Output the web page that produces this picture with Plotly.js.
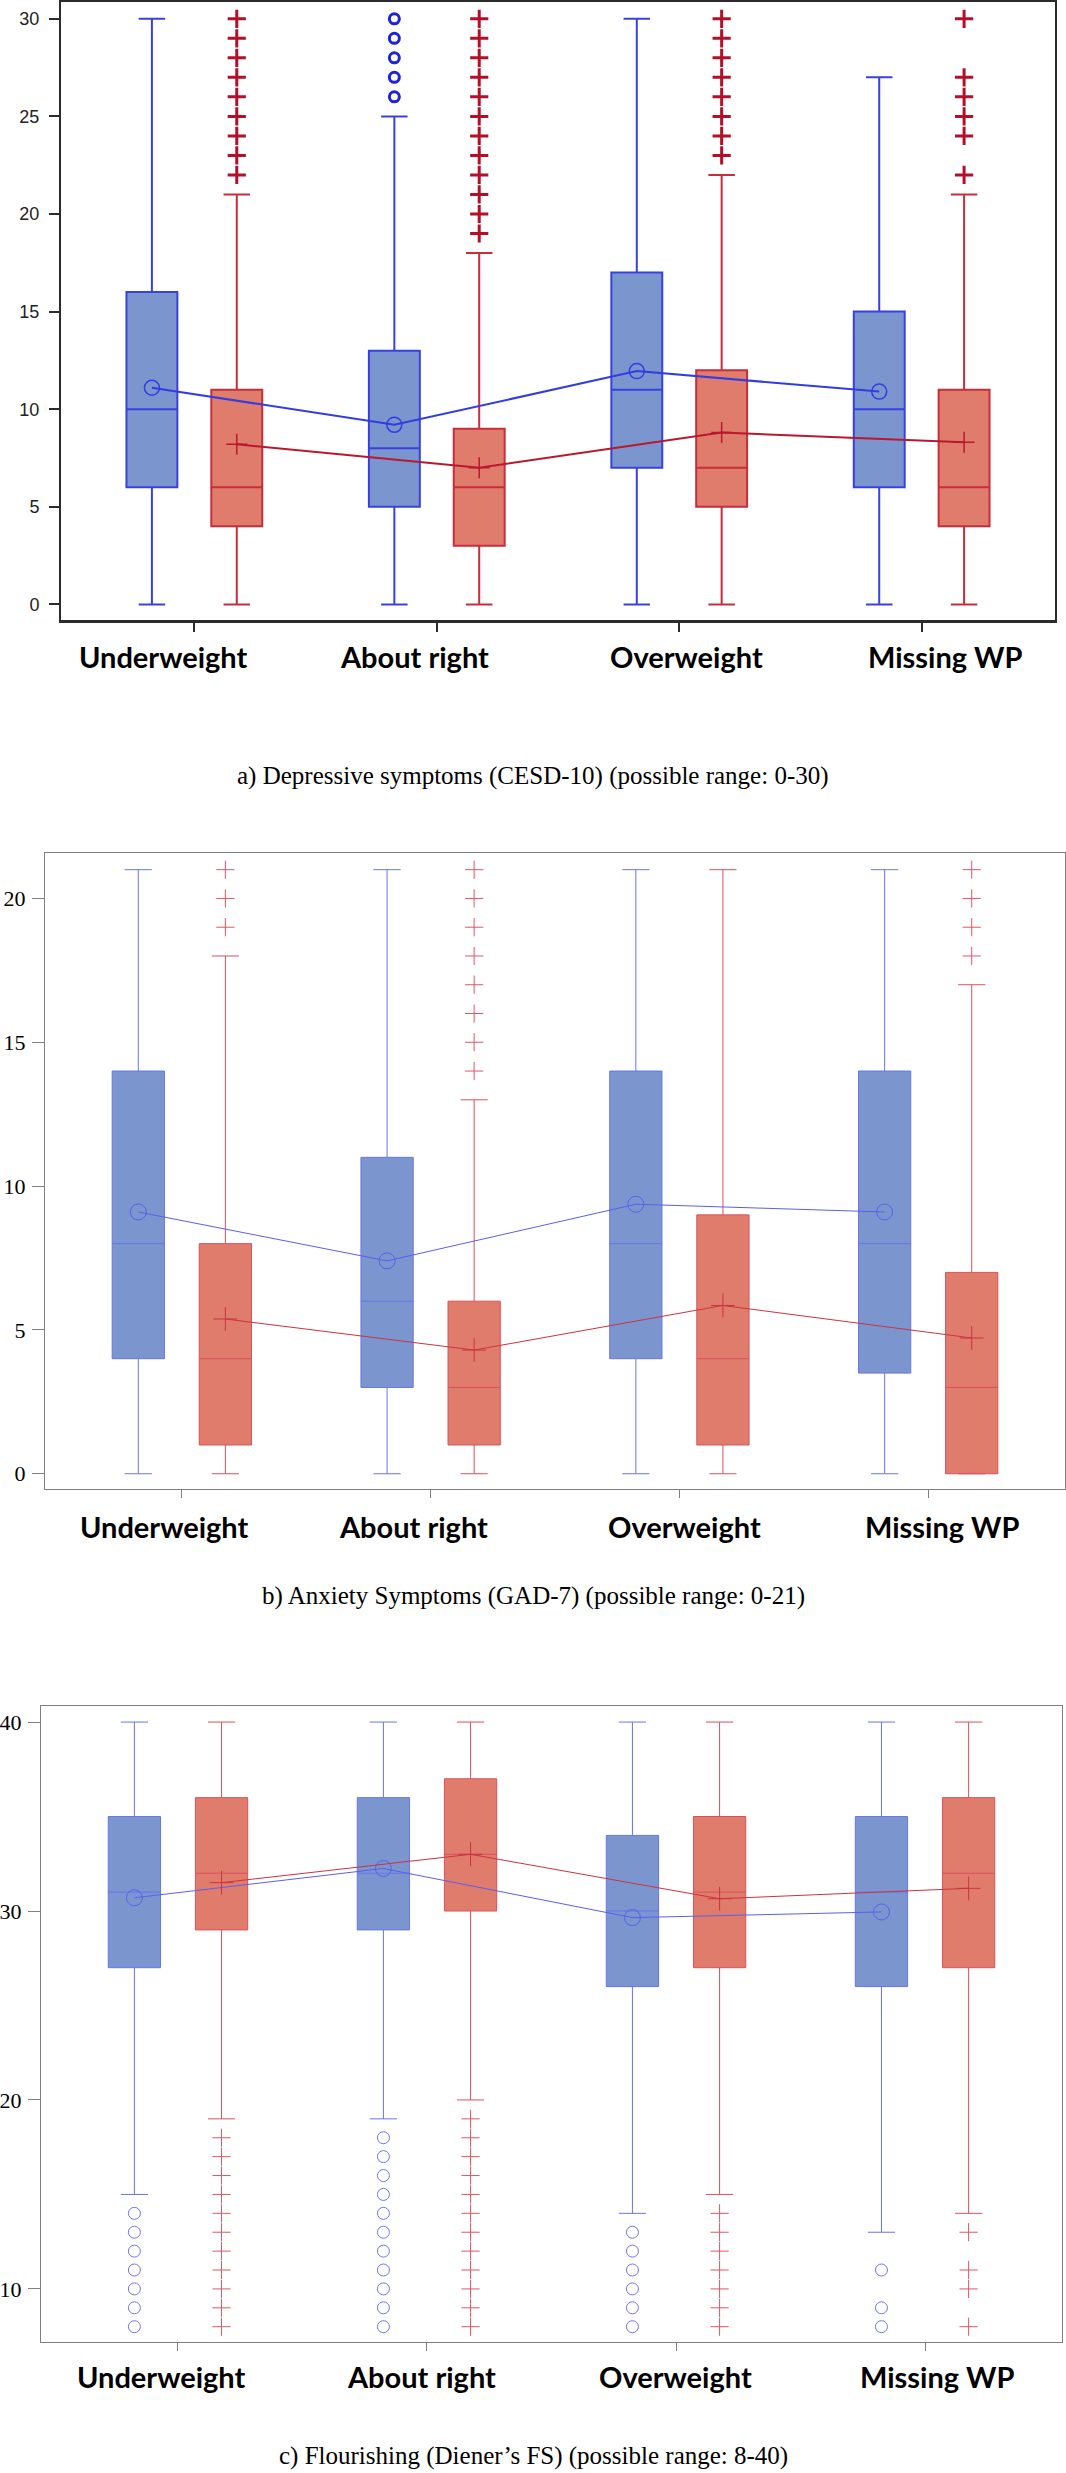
<!DOCTYPE html>
<html>
<head>
<meta charset="utf-8">
<script src="https://cdn.plot.ly/plotly-3.0.1.min.js"></script>
<style>
html,body{margin:0;padding:0;background:#fff;}
#chart{width:1066px;height:2473px;}
</style>
</head>
<body>
<div id="chart"></div>
<script>
// ---------- DATA ----------
const categories = ['Underweight', 'About right', 'Overweight', 'Missing WP'];

// a) Depressive symptoms (CESD-10)
const cesdBlueLow = [0, 0, 0, 0];
const cesdBlueQ1 = [6, 5, 7, 6];
const cesdBlueMed = [10, 8, 11, 10];
const cesdBlueQ3 = [16, 13, 17, 15];
const cesdBlueHigh = [30, 25, 30, 27];
const cesdBlueMean = [11.1, 9.2, 11.95, 10.9];
const cesdBlueOut = [[], [26, 27, 28, 29, 30], [], []];
const cesdRedLow = [0, 0, 0, 0];
const cesdRedQ1 = [4, 3, 5, 4];
const cesdRedMed = [6, 6, 7, 6];
const cesdRedQ3 = [11, 9, 12, 11];
const cesdRedHigh = [21, 18, 22, 21];
const cesdRedMean = [8.2, 7.0, 8.8, 8.3];
const cesdRedOut = [[22, 23, 24, 25, 26, 27, 28, 29, 30],
                    [19, 20, 21, 22, 23, 24, 25, 26, 27, 28, 29, 30],
                    [23, 24, 25, 26, 27, 28, 29, 30],
                    [22, 24, 25, 26, 27, 30]];

// b) Anxiety symptoms (GAD-7)
const gadBlueLow = [0, 0, 0, 0];
const gadBlueQ1 = [4, 3, 4, 3.5];
const gadBlueMed = [8, 6, 8, 8];
const gadBlueQ3 = [14, 11, 14, 14];
const gadBlueHigh = [21, 21, 21, 21];
const gadBlueMean = [9.1, 7.4, 9.37, 9.1];
const gadBlueOut = [[], [], [], []];
const gadRedLow = [0, 0, 0, 0];
const gadRedQ1 = [1, 1, 1, 0];
const gadRedMed = [4, 3, 4, 3];
const gadRedQ3 = [8, 6, 9, 7];
const gadRedHigh = [18, 13, 21, 17];
const gadRedMean = [5.38, 4.3, 5.85, 4.72];
const gadRedOut = [[19, 20, 21], [14, 15, 16, 17, 18, 19, 20, 21], [], [18, 19, 20, 21]];

// c) Flourishing (Diener's FS)
const fsBlueLow = [15, 19, 14, 13];
const fsBlueQ1 = [27, 29, 26, 26];
const fsBlueMed = [31, 32, 30, 31];
const fsBlueQ3 = [35, 36, 34, 35];
const fsBlueHigh = [40, 40, 40, 40];
const fsBlueMean = [30.7, 32.25, 29.65, 29.95];
const fsBlueOut = [[8, 9, 10, 11, 12, 13, 14],
                   [8, 9, 10, 11, 12, 13, 14, 15, 16, 17, 18],
                   [8, 9, 10, 11, 12, 13],
                   [8, 9, 11]];
const fsRedLow = [19, 20, 15, 14];
const fsRedQ1 = [29, 30, 27, 27];
const fsRedMed = [32, 33, 31, 32];
const fsRedQ3 = [36, 37, 35, 36];
const fsRedHigh = [40, 40, 40, 40];
const fsRedMean = [31.5, 33.0, 30.65, 31.2];
const fsRedOut = [[8, 9, 10, 11, 12, 13, 14, 15, 16, 17, 18],
                  [8, 9, 10, 11, 12, 13, 14, 15, 16, 17, 18, 19],
                  [8, 9, 10, 11, 12, 13, 14],
                  [8, 10, 11, 13]];

const captions = [
  'a) Depressive symptoms (CESD-10) (possible range: 0-30)',
  'b) Anxiety Symptoms (GAD-7) (possible range: 0-21)',
  'c) Flourishing (Diener\u2019s FS) (possible range: 8-40)'
];
const yTicksA = [0, 5, 10, 15, 20, 25, 30];
const yTicksB = [0, 5, 10, 15, 20];
const yTicksC = [10, 20, 30, 40];

// ---------- LAYOUT CONSTANTS ----------
const W = 1066, H = 2473;
const OFF = 0.175, BOXW = 0.21;
const catIdx = categories.map((c, i) => i);

const panels = [
  { key: '', left: 61, right: 1055, top: 2, bottom: 620, yr: [-0.8, 30.86], ticks: yTicksA,
    labelY: 657, labelX: [163, 414, 686, 945], capY: 776, bold: true,
    blue: [cesdBlueLow, cesdBlueQ1, cesdBlueMed, cesdBlueQ3, cesdBlueHigh, cesdBlueMean, cesdBlueOut],
    red: [cesdRedLow, cesdRedQ1, cesdRedMed, cesdRedQ3, cesdRedHigh, cesdRedMean, cesdRedOut] },
  { key: '2', left: 45, right: 1065, top: 853, bottom: 1489, yr: [-0.53, 21.58], ticks: yTicksB,
    labelY: 1526, labelX: [164, 413, 684, 942], capY: 1596, bold: false,
    blue: [gadBlueLow, gadBlueQ1, gadBlueMed, gadBlueQ3, gadBlueHigh, gadBlueMean, gadBlueOut],
    red: [gadRedLow, gadRedQ1, gadRedMed, gadRedQ3, gadRedHigh, gadRedMean, gadRedOut] },
  { key: '3', left: 41, right: 1062, top: 1706, bottom: 2342, yr: [7.19, 40.85], ticks: yTicksC,
    labelY: 2376, labelX: [161, 421, 675, 937], capY: 2456, bold: false,
    blue: [fsBlueLow, fsBlueQ1, fsBlueMed, fsBlueQ3, fsBlueHigh, fsBlueMean, fsBlueOut],
    red: [fsRedLow, fsRedQ1, fsRedMed, fsRedQ3, fsRedHigh, fsRedMean, fsRedOut] }
];

const traces = [];
const layout = {
  width: W, height: H, margin: { l: 0, r: 0, t: 0, b: 0 },
  paper_bgcolor: '#fff', plot_bgcolor: '#fff', showlegend: false,
  annotations: [], shapes: []
};

panels.forEach((p, pi) => {
  const xa = 'x' + p.key, ya = 'y' + p.key;
  const bold = p.bold;
  const blueFill = 'rgb(123,150,206)', redFill = 'rgb(224,124,108)';
  const blueLine = bold ? 'rgb(55,65,225)' : 'rgb(105,115,235)';
  const redLine = bold ? 'rgb(200,45,60)' : 'rgb(218,80,92)';
  const groups = [
    { d: p.blue, off: -OFF, fill: blueFill, line: blueLine,
      meanSym: 'circle-open', outSym: 'circle-open',
      meanCol: bold ? 'rgb(50,60,225)' : 'rgb(90,95,235)',
      outCol: bold ? 'rgb(30,35,215)' : 'rgb(115,115,240)' },
    { d: p.red, off: OFF, fill: redFill, line: redLine,
      meanSym: 'cross-thin-open', outSym: 'cross-thin-open',
      meanCol: bold ? 'rgb(185,25,45)' : 'rgb(205,50,65)',
      outCol: bold ? 'rgb(180,15,40)' : 'rgb(225,85,100)' }
  ];
  groups.forEach(g => {
    const xs = catIdx.map(i => i + g.off);
    traces.push({
      type: 'box', xaxis: xa, yaxis: ya, x: xs,
      lowerfence: g.d[0], q1: g.d[1], median: g.d[2], q3: g.d[3], upperfence: g.d[4],
      width: BOXW, whiskerwidth: 0.52, fillcolor: g.fill,
      line: { color: g.line, width: bold ? 2 : 1 }, hoverinfo: 'skip'
    });
    // outliers
    const ox = [], oy = [];
    g.d[6].forEach((arr, i) => arr.forEach(v => { ox.push(i + g.off); oy.push(v); }));
    traces.push({
      type: 'scatter', mode: 'markers', xaxis: xa, yaxis: ya, x: ox, y: oy, hoverinfo: 'skip',
      marker: { symbol: g.outSym, color: g.outCol,
        size: g.outSym === 'circle-open' ? (bold ? 10 : 12) : 13,
        line: { color: g.outCol, width: bold ? 3 : 1 } }
    });
    // means + connecting line
    traces.push({
      type: 'scatter', mode: 'lines+markers', xaxis: xa, yaxis: ya, x: xs, y: g.d[5], hoverinfo: 'skip',
      line: { color: g.meanCol, width: bold ? 2 : 1 },
      marker: { symbol: g.meanSym, color: g.meanCol,
        size: g.meanSym === 'circle-open' ? (bold ? 15 : 16) : (bold ? 15 : 17),
        line: { color: g.meanCol, width: bold ? 1.5 : 1 } }
    });
  });

  const frameCol = bold ? '#2b2b2b' : '#808080';
  layout['xaxis' + p.key] = {
    domain: [p.left / W, p.right / W], anchor: ya, range: [-0.55, 3.55],
    tickvals: catIdx, ticktext: categories.map(() => ''), showticklabels: false,
    ticks: 'outside', ticklen: bold ? 9 : 8, tickwidth: bold ? 2 : 1, tickcolor: frameCol,
    showline: true, mirror: true, linecolor: frameCol, linewidth: bold ? 2.5 : 1,
    showgrid: false, zeroline: false, fixedrange: true
  };
  layout['yaxis' + p.key] = {
    domain: [1 - p.bottom / H, 1 - p.top / H], anchor: xa, range: p.yr,
    tickvals: p.ticks, ticks: 'outside', ticklen: bold ? 10 : 12, tickwidth: bold ? 2 : 1,
    tickcolor: frameCol, ticklabelstandoff: bold ? 6 : 2,
    tickfont: bold ? { family: 'Liberation Sans Narrow, Liberation Sans, Arial', size: 18, color: '#222' }
                   : { family: 'Liberation Serif, Times New Roman, serif', size: 22, color: '#000' },
    showline: true, mirror: true, linecolor: frameCol, linewidth: bold ? 2 : 1,
    showgrid: false, zeroline: false, fixedrange: true
  };
  categories.forEach((c, i) => {
    layout.annotations.push({
      xref: 'paper', yref: 'paper', x: p.labelX[i] / W, y: 1 - p.labelY / H,
      xanchor: 'center', yanchor: 'middle', showarrow: false, text: '<b>' + c + '</b>',
      font: { family: 'Lato, Open Sans, sans-serif', size: 29, color: '#000' }
    });
  });
  layout.annotations.push({
    xref: 'paper', yref: 'paper', x: 0.5, y: 1 - p.capY / H,
    xanchor: 'center', yanchor: 'middle', showarrow: false, text: captions[pi],
    font: { family: 'Liberation Serif, Times New Roman, serif', size: 25, color: '#000' }
  });
});

Plotly.newPlot('chart', traces, layout, { staticPlot: true, displayModeBar: false });
</script>
</body>
</html>
